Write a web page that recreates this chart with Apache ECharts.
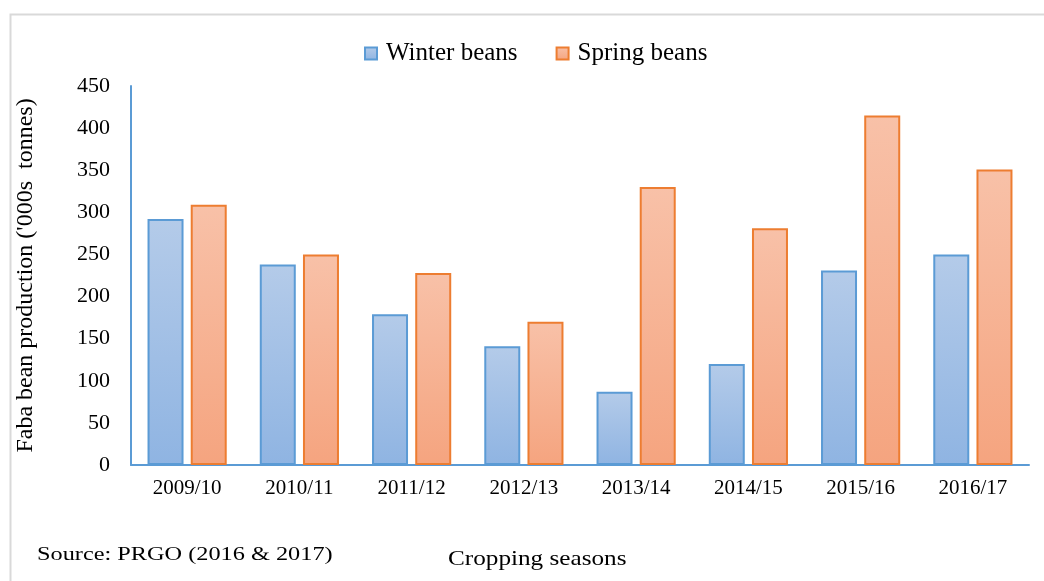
<html>
<head>
    <meta http-equiv="content-type" content="text/html; charset=utf-8">
    <title>Faba bean production</title>
    <script src="https://cdn.jsdelivr.net/npm/echarts@6/dist/echarts.min.js"></script>
    <style>
        body { margin: 0; background: #fff; }
        #chart { width: 1044px; height: 581px; }
    </style>
</head>
<body>
    <div id="chart"></div>
    <script type="text/javascript">
        var seasons = ["2009/10", "2010/11", "2011/12", "2012/13", "2013/14", "2014/15", "2015/16", "2016/17"];
        var winterBeans = [292, 238, 179, 141, 87, 120, 231, 250];
        var springBeans = [309, 250, 228, 170, 330, 281, 415, 351];

        var font = "Liberation Serif";
        function grad(top, bottom) {
            return new echarts.graphic.LinearGradient(0, 0, 0, 1, [
                { offset: 0, color: top },
                { offset: 1, color: bottom }
            ]);
        }

        var chart = echarts.init(document.getElementById("chart"));
        chart.setOption({
            animation: false,
            textStyle: { fontFamily: font, color: "#000" },
            graphic: [
                { type: "rect", left: 8, top: 12, shape: { width: 1100, height: 700 },
                  style: { fill: "none", stroke: "#d9d9d9", lineWidth: 2 }, z: -1 },
                { type: "text", x: 37, y: 546, scaleX: 1.35,
                  style: { text: "Source: PRGO (2016 & 2017)", font: "18px 'Liberation Serif'", fill: "#000" } },
                { type: "text", x: 448, y: 549, scaleX: 1.2,
                  style: { text: "Cropping seasons", font: "21px 'Liberation Serif'", fill: "#000" } }
            ],
            legend: {
                top: 36,
                left: 359,
                icon: "rect",
                itemWidth: 12,
                itemHeight: 12,
                itemGap: 38,
                textStyle: { fontFamily: font, fontSize: 25, color: "#000", padding: [0, 0, 0, 4] },
                data: ["Winter beans", "Spring beans"]
            },
            grid: { left: 131, right: 15, top: 86, bottom: 116 },
            xAxis: {
                type: "category",
                data: seasons,
                axisLine: { lineStyle: { color: "#5b9bd5", width: 2 } },
                axisTick: { show: false },
                axisLabel: { fontFamily: font, fontSize: 21, color: "#000", margin: 13 }
            },
            yAxis: {
                type: "value",
                min: 0,
                max: 450,
                interval: 50,
                name: "Faba bean production ('000s  tonnes)",
                nameLocation: "middle",
                nameGap: 93,
                nameTextStyle: { fontFamily: font, fontSize: 24, color: "#000" },
                axisLine: { show: true, lineStyle: { color: "#5b9bd5", width: 2 } },
                axisTick: { show: false },
                splitLine: { show: false },
                axisLabel: { fontFamily: font, fontSize: 22, color: "#000", margin: 21 }
            },
            series: [
                {
                    name: "Winter beans",
                    type: "bar",
                    data: winterBeans,
                    barWidth: 36,
                    barGap: "20%",
                    itemStyle: { color: grad("#b4cbe9", "#8fb4e2"), borderColor: "#5b9bd5", borderWidth: 2 }
                },
                {
                    name: "Spring beans",
                    type: "bar",
                    data: springBeans,
                    barWidth: 36,
                    itemStyle: { color: grad("#f8c1a8", "#f5a47f"), borderColor: "#ed7d31", borderWidth: 2 }
                }
            ]
        });
    </script>
</body>
</html>
